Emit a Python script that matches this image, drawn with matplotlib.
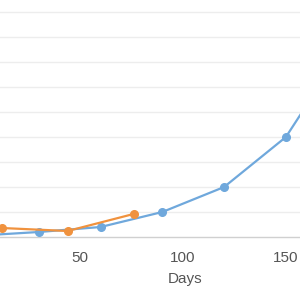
import matplotlib
matplotlib.use("Agg")
import matplotlib.pyplot as plt

# data
blue_days = [0, 30, 60, 90, 120, 150, 180]
blue_vals = [0.05, 0.2, 0.4, 1.0, 2.0, 4.0, 7.8]
orange_days = [12, 44, 76]
orange_vals = [0.36, 0.24, 0.92]
x_ticks = [50, 100, 150, 200]

plt.rcParams['font.family'] = ['Liberation Sans', 'DejaVu Sans']

fig = plt.figure(figsize=(3, 3), dpi=100)
# plot area is wider than the picture: the chart is cropped on both sides
ax = fig.add_axes([-23 / 300, 63 / 300, 416 / 300, 250 / 300])

ax.plot(blue_days, blue_vals, color='#6FA8DC', lw=1.6, marker='o', ms=5.5, zorder=3, clip_on=False)
ax.plot(orange_days, orange_vals, color='#F0923E', lw=1.6, marker='o', ms=5.5, zorder=4, clip_on=False)

ax.set_xlim(0, 202)
ax.set_ylim(0, 10)
ax.set_xticks(x_ticks)
ax.set_yticks(range(1, 11))
ax.set_yticklabels([])
ax.grid(axis='y', color='#EDEDED', lw=1)
ax.set_axisbelow(True)
for s in ['top', 'right', 'left']:
    ax.spines[s].set_visible(False)
ax.spines['bottom'].set_color('#D0D0D0')
ax.spines['bottom'].set_linewidth(1)
ax.tick_params(axis='both', length=0, labelsize=11, colors='#555555', pad=10)
ax.set_xlabel('Days', fontsize=11, color='#555555', labelpad=5)

fig.savefig('out.png', dpi=100)
